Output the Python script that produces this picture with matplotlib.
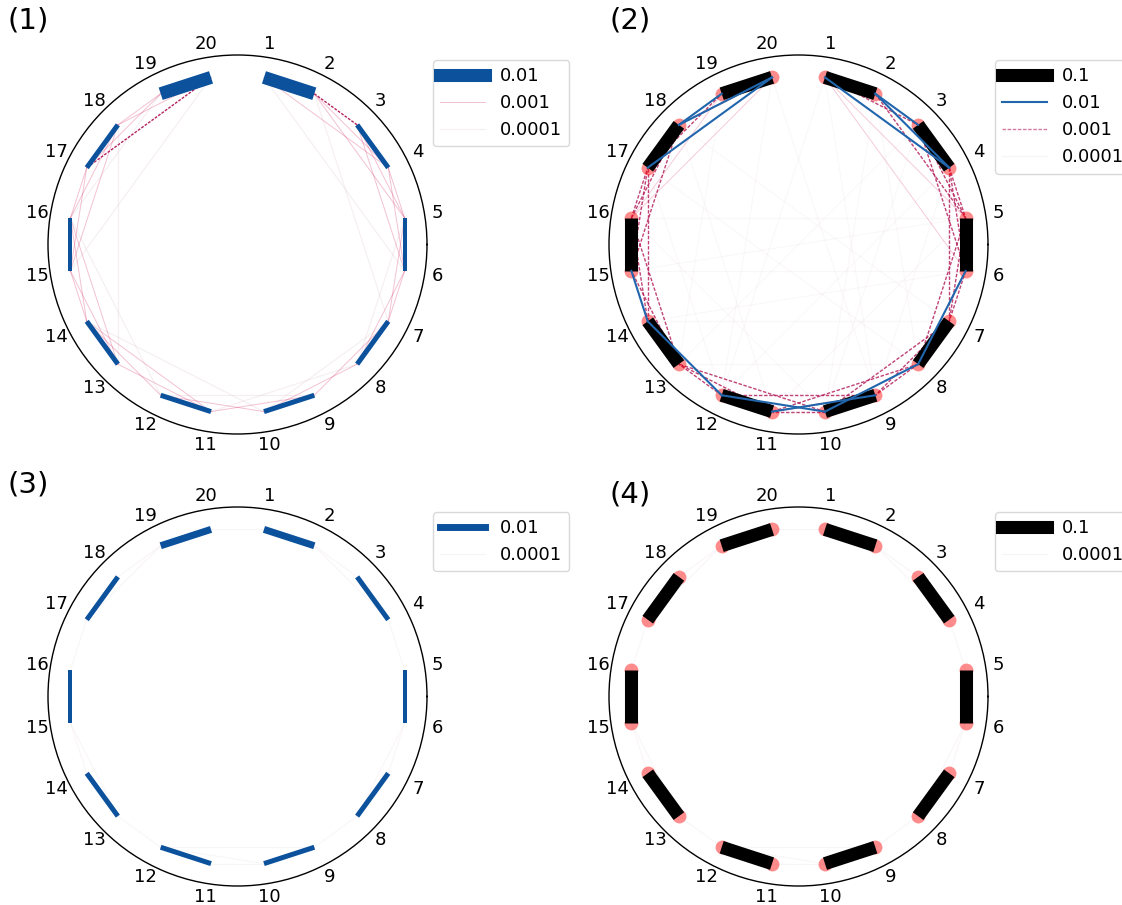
import numpy as np
import matplotlib
matplotlib.use('Agg')
import matplotlib.pyplot as plt
from matplotlib.lines import Line2D

# node labels around the ring
nodes = list(range(1, 21))

# strong couplings: neighbour pairs (same set in every panel)
pairs = [(1, 2), (3, 4), (5, 6), (7, 8), (9, 10), (11, 12), (13, 14), (15, 16), (17, 18), (19, 20)]
# relative strength of each pair (line width follows it)
pair_w1 = [0.026, 0.010, 0.008, 0.010, 0.010, 0.010, 0.010, 0.008, 0.010, 0.026]
pair_w2 = [0.1] * 10
pair_w3 = [0.014, 0.010, 0.008, 0.010, 0.010, 0.010, 0.010, 0.008, 0.010, 0.014]
pair_w4 = [0.1] * 10

# panel 1 weaker couplings
mid_1 = [(20, 17), (2, 3)]
thin_1 = [(19, 18), (19, 17), (20, 18), (18, 16), (18, 15), (17, 16), (17, 15), (16, 14),
          (16, 13), (15, 14), (15, 13), (14, 11), (14, 12), (13, 11), (12, 10), (1, 4),
          (2, 4), (2, 5), (3, 5), (3, 6), (4, 6), (4, 5), (6, 8), (6, 7), (5, 7), (8, 10),
          (7, 9), (9, 11)]
faint_1 = [(20, 15), (1, 6), (18, 13), (12, 9), (11, 8), (10, 7), (14, 10), (19, 16),
           (2, 7), (16, 12), (5, 8)]

# panel 2 weaker couplings
blue_2 = [(1, 4), (2, 3), (2, 4), (20, 17), (19, 18), (20, 18), (6, 8), (8, 10), (10, 12),
          (12, 14), (14, 15), (9, 11)]
dash_2 = [(1, 3), (3, 5), (3, 6), (4, 5), (4, 6), (4, 7), (5, 7), (6, 7), (5, 8), (7, 9),
          (7, 10), (8, 9), (8, 11), (9, 11), (10, 11), (9, 12), (11, 13), (12, 13), (13, 15),
          (14, 16), (13, 16), (15, 17), (16, 17), (16, 18), (15, 18), (17, 19), (18, 20),
          (14, 17), (10, 13), (2, 5)]
thin_2 = [(1, 6), (20, 16), (19, 16), (1, 5)]
faint_2 = [(1, 9), (20, 12), (2, 10), (5, 16), (6, 15), (3, 13), (4, 12), (7, 18), (8, 17),
           (1, 12), (20, 9), (3, 10), (18, 11), (6, 14), (5, 15), (7, 14), (8, 13), (2, 8),
           (19, 13), (4, 9), (17, 12), (10, 16), (11, 5)]

# panels 3 and 4: only faint links between neighbouring pairs
faint_34 = [(2, 3), (4, 5), (6, 7), (8, 9), (10, 11), (12, 13), (14, 15), (16, 17), (18, 19),
            (20, 1), (2, 4), (19, 17), (6, 8), (15, 13), (9, 12), (10, 12)]

legend_1 = ['0.01', '0.001', '0.0001']
legend_2 = ['0.1', '0.01', '0.001', '0.0001']
legend_3 = ['0.01', '0.0001']
legend_4 = ['0.1', '0.0001']

BLUE = '#0b519c'
BLUE2 = '#2166ac'
CRIMSON = '#b5225e'
PINK = '#d6336c'
FAINT = '#c9a3b8'


def theta(k):
    "angle of node k (radians), kept in [0, 2pi)"
    return np.deg2rad((81 - 18 * (k - 1)) % 360)


def draw_edges(ax, edges, **kw):
    for a, b in edges:
        ax.plot([theta(a), theta(b)], [1, 1], **kw)


def draw_pairs(ax, weights, color, markers=False):
    for (a, b), w in zip(pairs, weights):
        if markers:
            ax.plot([theta(a), theta(b)], [1, 1], 'o', color='red', alpha=0.45,
                    markersize=10, markeredgewidth=0, zorder=4)
        ax.plot([theta(a), theta(b)], [1, 1], color=color, lw=w * 360 if w < 0.05 else 9.4,
                solid_capstyle='butt', zorder=5)


def setup(ax):
    ax.set_xlim(0, 2 * np.pi)
    ax.set_ylim(0, 1.12)
    ax.set_yticks([])
    ax.set_thetagrids([(81 - 18 * (k - 1)) % 360 for k in nodes], [str(k) for k in nodes],
                      fontsize=13)
    ax.tick_params(axis='x', pad=-1)
    ax.grid(False)
    ax.spines['polar'].set_linewidth(1.0)


fig = plt.figure(figsize=(11.22, 9.05), dpi=100)
W, H = 1122, 905
R = 189.5
centers = [(237.5, 244.5), (798.5, 244.5), (237.5, 696.5), (798.5, 696.5)]
axes = []
for cx, cy in centers:
    ax = fig.add_axes([(cx - R) / W, 1 - (cy + R) / H, 2 * R / W, 2 * R / H], projection='polar')
    setup(ax)
    axes.append(ax)

# (1)
ax = axes[0]
draw_edges(ax, faint_1, color=FAINT, lw=0.8, alpha=0.18)
draw_edges(ax, thin_1, color=PINK, lw=0.7, alpha=0.3)
draw_edges(ax, mid_1, color=CRIMSON, lw=1.0, ls='--', dashes=(2, 1))
draw_pairs(ax, pair_w1, BLUE)
h1 = [Line2D([], [], color=BLUE, lw=9.4),
      Line2D([], [], color=PINK, lw=0.7, alpha=0.3),
      Line2D([], [], color=FAINT, lw=0.8, alpha=0.18)]

# (2)
ax = axes[1]
draw_edges(ax, faint_2, color=FAINT, lw=0.8, alpha=0.08)
draw_edges(ax, thin_2, color=PINK, lw=0.7, alpha=0.25)
draw_edges(ax, dash_2, color=CRIMSON, lw=1.0, ls='--', dashes=(2.5, 1.2), alpha=0.85)
draw_edges(ax, blue_2, color=BLUE2, lw=1.5, zorder=6)
draw_pairs(ax, pair_w2, 'black', markers=True)
h2 = [Line2D([], [], color='black', lw=9.4),
      Line2D([], [], color=BLUE2, lw=1.5),
      Line2D([], [], color=CRIMSON, lw=1.0, ls='--', dashes=(2.5, 1.2), alpha=0.6),
      Line2D([], [], color=FAINT, lw=0.8, alpha=0.12)]

# (3)
ax = axes[2]
draw_edges(ax, faint_34, color=FAINT, lw=0.8, alpha=0.1)
draw_pairs(ax, pair_w3, BLUE)
h3 = [Line2D([], [], color=BLUE, lw=5.0),
      Line2D([], [], color=FAINT, lw=0.8, alpha=0.12)]

# (4)
ax = axes[3]
draw_edges(ax, faint_34, color=FAINT, lw=0.8, alpha=0.1)
draw_pairs(ax, pair_w4, 'black', markers=True)
h4 = [Line2D([], [], color='black', lw=9.4),
      Line2D([], [], color=FAINT, lw=0.8, alpha=0.12)]

legend_pos = [(433, 60), (995, 60), (433, 512), (995, 512)]
for ax, hs, labs, (lx, ly) in zip(axes, [h1, h2, h3, h4],
                                  [legend_1, legend_2, legend_3, legend_4], legend_pos):
    ax.legend(hs, labs, loc='upper left', bbox_to_anchor=(lx / W, 1 - ly / H),
              bbox_transform=fig.transFigure, fontsize=13, handlelength=2.5,
              borderaxespad=0, edgecolor='#d0d0d0')

for txt, (x, y) in zip(['(1)', '(2)', '(3)', '(4)'], [(8, 6), (610, 6), (8, 470), (610, 480)]):
    fig.text(x / W, 1 - y / H, txt, fontsize=21, ha='left', va='top')

fig.savefig('out.png', dpi=100)
